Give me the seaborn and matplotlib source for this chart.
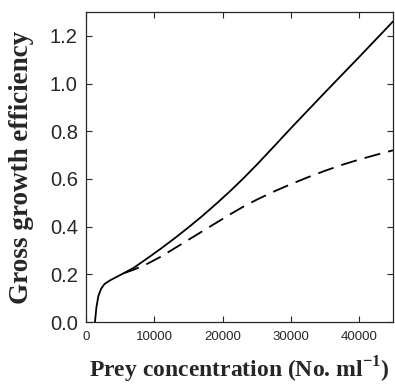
import numpy as np
import pandas as pd
import seaborn as sns
import matplotlib.pyplot as plt

# values
solid_x = [1300, 1500, 1800, 2200, 2700, 3500, 4500, 5500, 7000, 9000,
           11000, 13000, 15000, 17000, 19000, 21000, 23000, 25000, 27500,
           30000, 32500, 35000, 37500, 40000, 42500, 45000]
solid_y = [0.0, 0.06, 0.11, 0.14, 0.16, 0.175, 0.19, 0.205, 0.228, 0.268,
           0.309, 0.352, 0.397, 0.444, 0.494, 0.546, 0.601, 0.659, 0.735,
           0.812, 0.887, 0.962, 1.036, 1.11, 1.185, 1.26]
dash_x = [5500, 7000, 9000, 11000, 13000, 15000, 17000, 19000, 21000,
          23000, 25000, 27500, 30000, 32500, 35000, 37500, 40000, 42500,
          45000]
dash_y = [0.205, 0.22, 0.245, 0.275, 0.31, 0.345, 0.38, 0.415, 0.45,
          0.483, 0.513, 0.547, 0.578, 0.607, 0.634, 0.659, 0.681, 0.701,
          0.72]

df = pd.concat([
    pd.DataFrame({'prey': solid_x, 'gge': solid_y, 'model': 'a'}),
    pd.DataFrame({'prey': dash_x, 'gge': dash_y, 'model': 'b'}),
])

sns.set_style('ticks')
fig = plt.figure(figsize=(3.95, 3.84), dpi=100)
ax = fig.add_axes([0.218, 0.161, 0.777, 0.808])

sns.lineplot(data=df, x='prey', y='gge', style='model',
             dashes={'a': '', 'b': (9, 4.5)}, color='black', linewidth=1.3,
             legend=False, sort=False, ax=ax)

ax.set_xlim(0, 45000)
ax.set_ylim(0, 1.3)
ax.set_xticks([0, 10000, 20000, 30000, 40000])
ax.set_yticks([0.0, 0.2, 0.4, 0.6, 0.8, 1.0, 1.2])
ax.set_yticklabels(['0.0', '0.2', '0.4', '0.6', '0.8', '1.0', '1.2'])
ax.tick_params(direction='in', top=True, right=True, length=4, width=0.8)
ax.tick_params(axis='x', labelsize=9.5, pad=6)
ax.tick_params(axis='y', labelsize=14.5, pad=6)
for lab in ax.get_xticklabels() + ax.get_yticklabels():
    lab.set_family('Liberation Sans')
for sp in ax.spines.values():
    sp.set_linewidth(0.9)

ax.set_xlabel('Prey concentration (No. ml$^{\\mathregular{-1}}$)',
              family='Liberation Serif', fontweight='bold', fontsize=17,
              labelpad=9)
ax.set_ylabel('Gross growth efficiency', family='Liberation Serif',
              fontweight='bold', fontsize=19.5)
ax.yaxis.set_label_coords(-0.17, 0.5)

fig.savefig('out.png', dpi=100)
